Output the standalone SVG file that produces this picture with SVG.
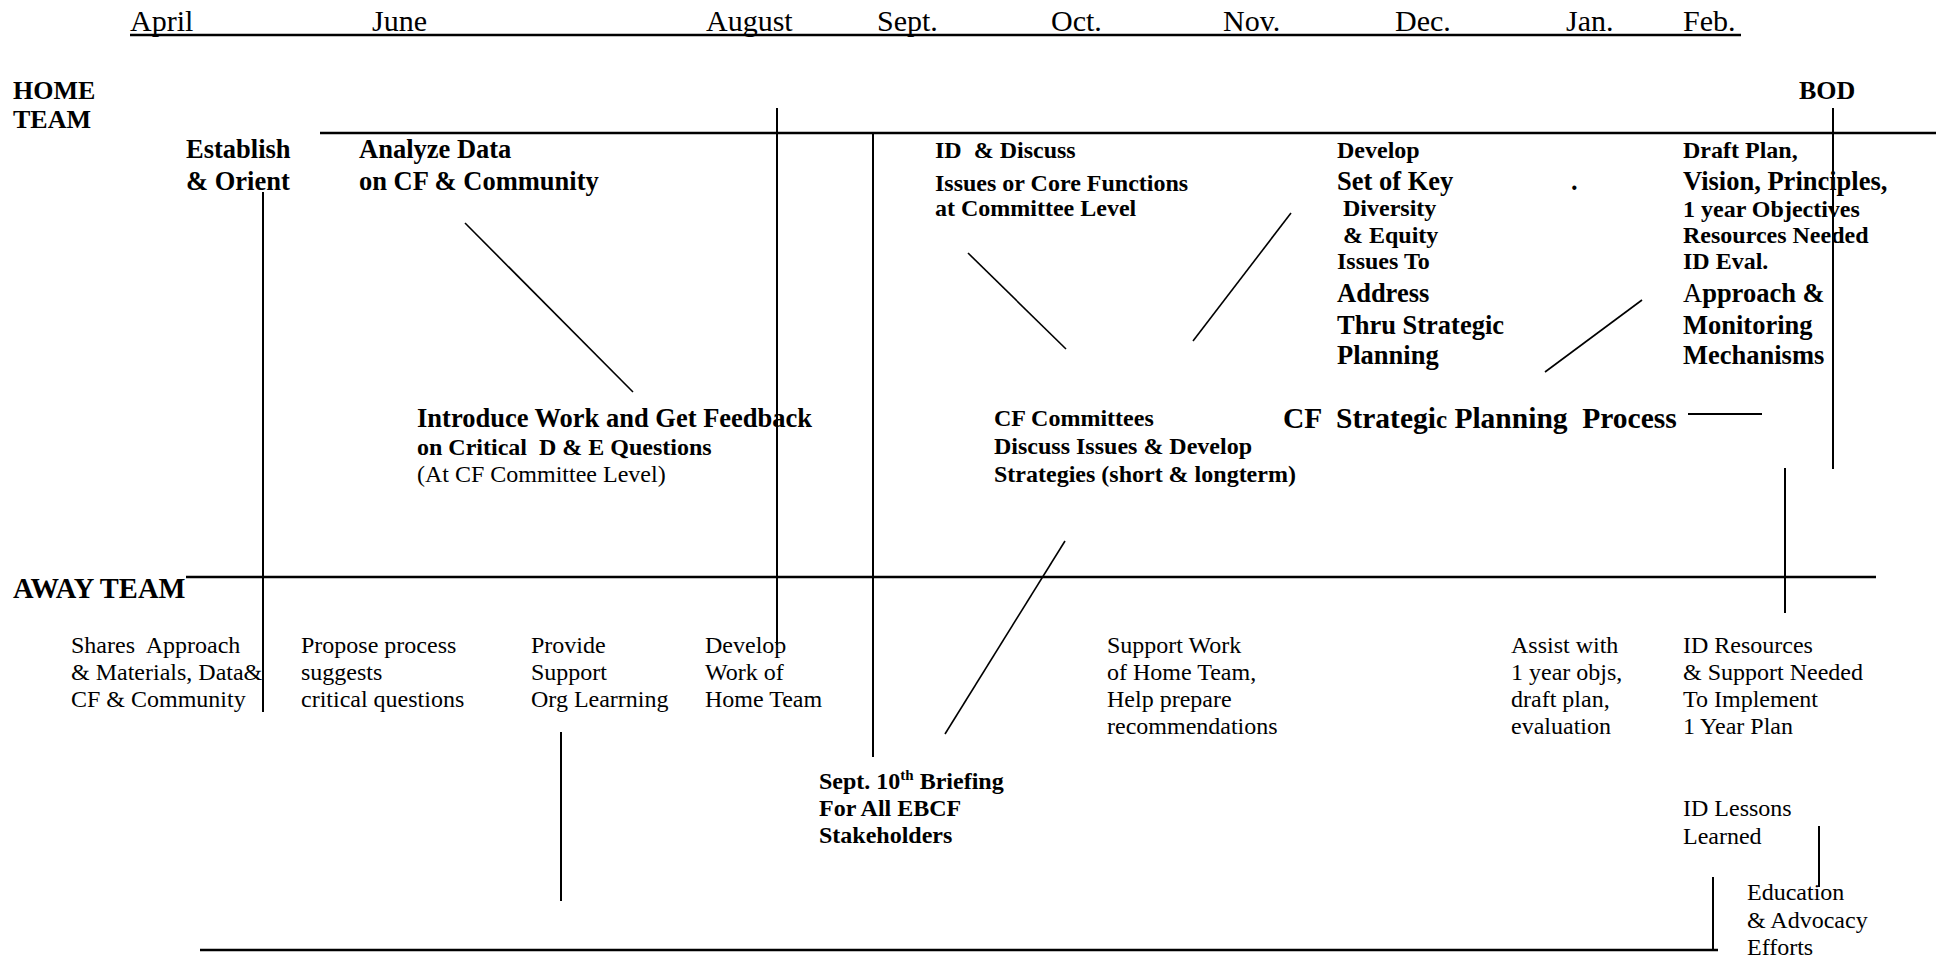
<svg xmlns="http://www.w3.org/2000/svg" width="1944" height="958" viewBox="0 0 1944 958">
<style>
text{font-family:"Liberation Serif","Times New Roman",serif;fill:#000;white-space:pre}
.m{font-size:30px}
.b{font-weight:bold}
.s{font-size:24px}
.l{font-size:26.5px}
.h{font-size:26px;font-weight:bold}
.r{font-size:24px}
.axis{stroke:#000;stroke-width:2.6;fill:none}
.v{stroke:#000;stroke-width:2;fill:none}
.d{stroke:#000;stroke-width:1.6;fill:none}
</style>
<rect width="1944" height="958" fill="#fff"/>

<g id="months">
<text class="m" x="130" y="31">April</text>
<text class="m" x="372" y="31">June</text>
<text class="m" x="706" y="31">August</text>
<text class="m" x="877" y="31">Sept.</text>
<text class="m" x="1051" y="31">Oct.</text>
<text class="m" x="1223" y="31">Nov.</text>
<text class="m" x="1395" y="31">Dec.</text>
<text class="m" x="1566" y="31">Jan.</text>
<text class="m" x="1683" y="31">Feb.</text>
</g>

<g id="lanes">
<text class="h" x="13" y="99">HOME</text>
<text class="h" x="13" y="128">TEAM</text>
<text class="h" x="1799" y="99">BOD</text>
<text class="h" style="font-size:28.5px" x="13" y="598">AWAY TEAM</text>
</g>

<g id="connectors">
<line class="axis" x1="130" y1="35" x2="1741" y2="35"/>
<line class="axis" x1="320" y1="133" x2="1936" y2="133"/>
<line class="axis" x1="186" y1="577" x2="1876" y2="577"/>
<line class="axis" x1="200" y1="950" x2="1718" y2="950"/>
<line class="v" x1="263" y1="192" x2="263" y2="712"/>
<line class="v" x1="777" y1="108" x2="777" y2="645"/>
<line class="v" x1="873" y1="133" x2="873" y2="757"/>
<line class="v" x1="1833" y1="108" x2="1833" y2="469"/>
<line class="v" x1="1785" y1="468" x2="1785" y2="613"/>
<line class="v" x1="561" y1="732" x2="561" y2="901"/>
<line class="v" x1="1713" y1="877" x2="1713" y2="950"/>
<line class="v" x1="1819" y1="826" x2="1819" y2="887"/>
<line class="v" x1="1688" y1="414" x2="1762" y2="414"/>
<line class="d" x1="465" y1="223" x2="633" y2="392"/>
<line class="d" x1="968" y1="253" x2="1066" y2="349"/>
<line class="d" x1="1291" y1="213" x2="1193" y2="341"/>
<line class="d" x1="1642" y1="300" x2="1545" y2="372"/>
<line class="d" x1="1065" y1="541" x2="945" y2="734"/>
</g>

<g id="establish">
<text class="b l" x="186" y="158">Establish</text>
<text class="b l" x="186" y="190">&amp; Orient</text>
</g>

<g id="analyze">
<text class="b l" x="359" y="158">Analyze Data</text>
<text class="b l" x="359" y="190">on CF &amp; Community</text>
</g>

<g id="introduce">
<text class="b l" x="417" y="427">Introduce Work and Get Feedback</text>
<text class="b s" x="417" y="455">on Critical  D &amp; E Questions</text>
<text class="r" x="417" y="482">(At CF Committee Level)</text>
</g>

<g id="id-discuss">
<text class="b s" x="935" y="158">ID  &amp; Discuss</text>
<text class="b s" x="935" y="191">Issues or Core Functions</text>
<text class="b s" x="935" y="216">at Committee Level</text>
</g>

<g id="committees">
<text class="b s" x="994" y="426">CF Committees</text>
<text class="b s" x="994" y="454">Discuss Issues &amp; Develop</text>
<text class="b s" x="994" y="482">Strategies (short &amp; longterm)</text>
</g>

<g id="develop">
<text class="b s" x="1337" y="158">Develop</text>
<text class="b l" x="1337" y="190">Set of Key</text>
<text class="b s" x="1337" y="216"> Diversity</text>
<text class="b s" x="1337" y="243"> &amp; Equity</text>
<text class="b s" x="1337" y="269">Issues To</text>
<text class="b l" x="1337" y="302">Address</text>
<text class="b l" x="1337" y="334">Thru Strategic</text>
<text class="b l" x="1337" y="364">Planning</text>
<text class="b l" x="1571" y="190">.</text>
</g>

<g id="process">
<text class="b" style="font-size:29.5px" x="1283" y="428">CF  Strategi<tspan style="font-size:25px">c</tspan> Planning  Process</text>
</g>

<g id="draft">
<text class="b s" x="1683" y="158">Draft Plan,</text>
<text class="b l" x="1683" y="190">Vision, Principles,</text>
<text class="b s" x="1683" y="217">1 year Objectives</text>
<text class="b s" x="1683" y="243">Resources Needed</text>
<text class="b s" x="1683" y="269">ID Eval.</text>
<text class="b l" x="1683" y="302"><tspan style="font-weight:normal">A</tspan>pproach &amp;</text>
<text class="b l" x="1683" y="334">Monitoring</text>
<text class="b l" x="1683" y="364">Mechanisms</text>
</g>

<g id="away-shares">
<text class="r" x="71" y="653">Shares  Approach</text>
<text class="r" x="71" y="680">&amp; Materials, Data&amp;</text>
<text class="r" x="71" y="707">CF &amp; Community</text>
</g>

<g id="away-propose">
<text class="r" x="301" y="653">Propose process</text>
<text class="r" x="301" y="680">suggests</text>
<text class="r" x="301" y="707">critical questions</text>
</g>

<g id="away-provide">
<text class="r" x="531" y="653">Provide</text>
<text class="r" x="531" y="680">Support</text>
<text class="r" x="531" y="707">Org Learrning</text>
</g>

<g id="away-develop">
<text class="r" x="705" y="653">Develop</text>
<text class="r" x="705" y="680">Work of</text>
<text class="r" x="705" y="707">Home Team</text>
</g>

<g id="briefing">
<text class="b s" x="819" y="789">Sept. 10<tspan style="font-size:15px" dy="-9">th</tspan><tspan dy="9"> Briefing</tspan></text>
<text class="b s" x="819" y="816">For All EBCF</text>
<text class="b s" x="819" y="843">Stakeholders</text>
</g>

<g id="away-support">
<text class="r" x="1107" y="653">Support Work</text>
<text class="r" x="1107" y="680">of Home Team,</text>
<text class="r" x="1107" y="707">Help prepare</text>
<text class="r" x="1107" y="734">recommendations</text>
</g>

<g id="away-assist">
<text class="r" x="1511" y="653">Assist with</text>
<text class="r" x="1511" y="680">1 year objs,</text>
<text class="r" x="1511" y="707">draft plan,</text>
<text class="r" x="1511" y="734">evaluation</text>
</g>

<g id="away-resources">
<text class="r" x="1683" y="653">ID Resources</text>
<text class="r" x="1683" y="680">&amp; Support Needed</text>
<text class="r" x="1683" y="707">To Implement</text>
<text class="r" x="1683" y="734">1 Year Plan</text>
</g>

<g id="lessons">
<text class="r" x="1683" y="816">ID Lessons</text>
<text class="r" x="1683" y="844">Learned</text>
</g>

<g id="education">
<text class="r" x="1747" y="900">Education</text>
<text class="r" x="1747" y="928">&amp; Advocacy</text>
<text class="r" x="1747" y="955">Efforts</text>
</g>
</svg>
